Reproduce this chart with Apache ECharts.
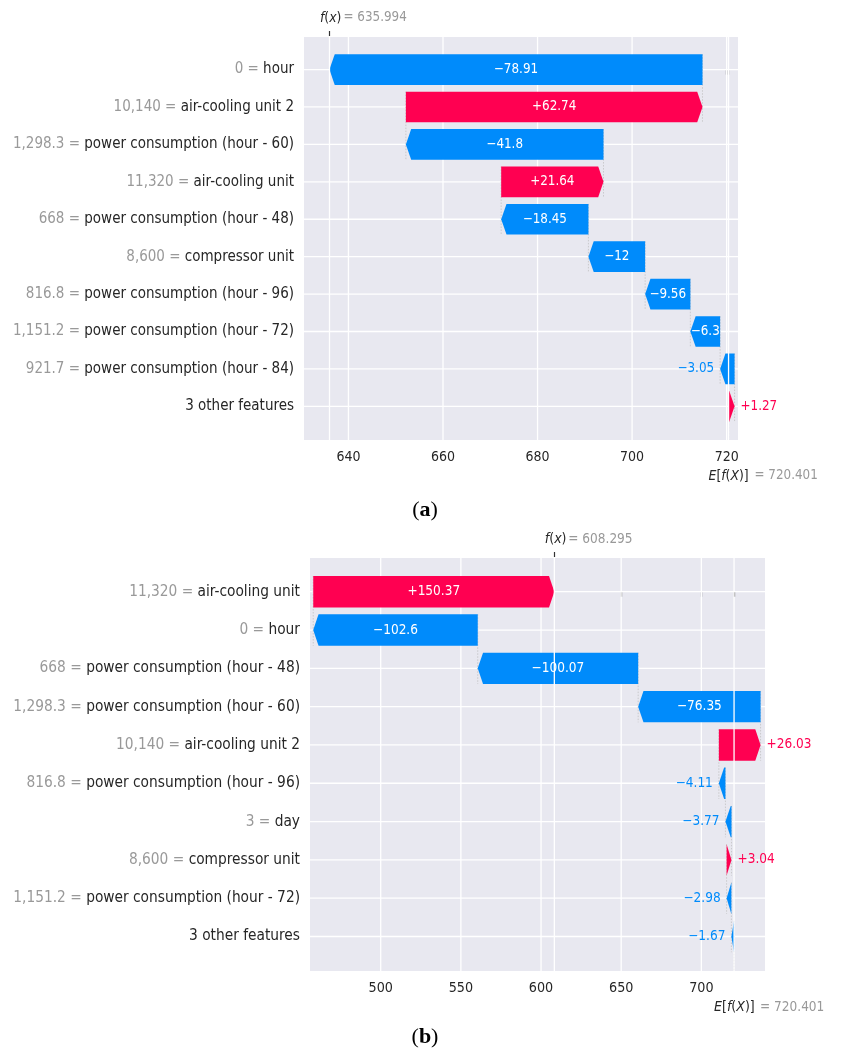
<!DOCTYPE html>
<html>
<head>
<meta charset="utf-8">
<script src="https://cdn.jsdelivr.net/npm/echarts@6/dist/echarts.min.js"></script>
<style>
  html, body { margin: 0; padding: 0; background: #ffffff; }
  #chart { width: 860px; height: 1051px; }
</style>
</head>
<body>
<div id="chart"></div>
<script>
// ---- Panel (a): waterfall of SHAP contributions, top row = largest |value| ----
const featureValuesA = ['0', '10,140', '1,298.3', '11,320', '668', '8,600', '816.8', '1,151.2', '921.7', ''];
const featureNamesA = ['hour', 'air-cooling unit 2', 'power consumption (hour - 60)', 'air-cooling unit',
  'power consumption (hour - 48)', 'compressor unit', 'power consumption (hour - 96)',
  'power consumption (hour - 72)', 'power consumption (hour - 84)', '3 other features'];
const shapValuesA = [-78.91, 62.74, -41.8, 21.64, -18.45, -12, -9.56, -6.3, -3.05, 1.27];
const baseValueA = 720.401;
const fxValueA = 635.994;
const xTicksA = [640, 660, 680, 700, 720];

// ---- Panel (b) ----
const featureValuesB = ['11,320', '0', '668', '1,298.3', '10,140', '816.8', '3', '8,600', '1,151.2', ''];
const featureNamesB = ['air-cooling unit', 'hour', 'power consumption (hour - 48)', 'power consumption (hour - 60)',
  'air-cooling unit 2', 'power consumption (hour - 96)', 'day', 'compressor unit',
  'power consumption (hour - 72)', '3 other features'];
const shapValuesB = [150.37, -102.6, -100.07, -76.35, 26.03, -4.11, -3.77, 3.04, -2.98, -1.67];
const baseValueB = 720.401;
const fxValueB = 608.295;
const xTicksB = [500, 550, 600, 650, 700];

// ---- styling ----
const FONT = "'DejaVu Sans Condensed', 'DejaVu Sans'";
const RED = '#ff0051';
const BLUE = '#008bfb';
const PLOT_BG = '#e8e8f0';
const TEXT_DARK = '#262626';
const TEXT_GRAY = '#999999';
const BAR_THICK = 0.82;   // in row units
const HEAD_PX = 5.3;      // arrow head length in pixels

const measureCtx = document.createElement('canvas').getContext('2d');
function textWidth(t, size) {
  measureCtx.font = size + 'px ' + FONT;
  return measureCtx.measureText(t).width;
}
function fmtShap(v) {
  const s = Math.abs(v).toFixed(2).replace(/0+$/, '').replace(/\.$/, '');
  return (v >= 0 ? '+' : '\u2212') + s;
}

const panels = [
  {
    names: featureNamesA, vals: featureValuesA, shap: shapValuesA, base: baseValueA, fx: fxValueA, ticks: xTicksA,
    grid: { left: 304, top: 37, width: 434, height: 403 },
    xMin: 630.6, xMax: 722.4, yMin: -0.87, yMax: 9.9,
    labelSize: 15, tickSize: 14, valSize: 13.3, annSize: 13.3
  },
  {
    names: featureNamesB, vals: featureValuesB, shap: shapValuesB, base: baseValueB, fx: fxValueB, ticks: xTicksB,
    grid: { left: 310, top: 558, width: 455, height: 413 },
    xMin: 455.9, xMax: 739.7, yMin: -0.88, yMax: 9.9,
    labelSize: 15.3, tickSize: 14.2, valSize: 13.5, annSize: 13.5
  }
];

const grids = [], xAxes = [], yAxes = [], series = [];

panels.forEach(function (p, idx) {
  const n = p.shap.length;
  const rows = [];
  for (let i = 0; i < n; i++) rows.push(i);

  // cumulative chain from the expected value upward (bottom row first)
  const bars = new Array(n);
  let cum = p.base;
  for (let i = n - 1; i >= 0; i--) {
    const start = cum, end = cum + p.shap[i];
    bars[i] = [start, end, i, p.shap[i]];
    cum = end;
  }

  grids.push(Object.assign({ show: true, backgroundColor: PLOT_BG, borderWidth: 0 }, p.grid));

  const xb = xAxes.length;
  xAxes.push({
    type: 'value', gridIndex: idx, position: 'bottom', min: p.xMin, max: p.xMax, offset: 1,
    axisLine: { show: false },
    axisTick: { show: true, customValues: p.ticks.concat([p.base]), length: 5, lineStyle: { color: '#333333', width: 1.2 } },
    axisLabel: { customValues: p.ticks, color: TEXT_DARK, fontSize: p.tickSize, fontFamily: FONT, margin: 9 },
    splitLine: { show: false }
  });
  xAxes.push({
    type: 'value', gridIndex: idx, position: 'top', min: p.xMin, max: p.xMax, offset: 1,
    axisLine: { show: false },
    axisTick: { show: true, customValues: [p.fx], length: 5, lineStyle: { color: '#333333', width: 1.2 } },
    axisLabel: { show: false },
    splitLine: { show: false }
  });

  yAxes.push({
    type: 'value', gridIndex: idx, inverse: true, min: p.yMin, max: p.yMax,
    axisLine: { show: false }, axisTick: { show: false }, splitLine: { show: false },
    axisLabel: {
      customValues: rows, margin: 10, fontFamily: FONT, fontSize: p.labelSize,
      formatter: function (val) {
        const i = Math.round(val);
        if (!p.vals[i]) return '{n|' + p.names[i] + '}';
        return '{v|' + p.vals[i] + ' = }{n|' + p.names[i] + '}';
      },
      rich: {
        v: { color: TEXT_GRAY, fontSize: p.labelSize, fontFamily: FONT },
        n: { color: TEXT_DARK, fontSize: p.labelSize, fontFamily: FONT }
      }
    }
  });

  const axisRef = { xAxisIndex: xb, yAxisIndex: idx };

  // white grid lines: row centres and x ticks
  const gridData = rows.map(function (r) { return [0, r]; }).concat(p.ticks.map(function (t) { return [1, t]; }));
  series.push(Object.assign({
    type: 'custom', z: 1, silent: true, data: gridData,
    renderItem: function (params, api) {
      const kind = api.value(0), v = api.value(1);
      let a, b;
      if (kind === 0) { a = api.coord([p.xMin, v]); b = api.coord([p.xMax, v]); }
      else { a = api.coord([v, p.yMin]); b = api.coord([v, p.yMax]); }
      return { type: 'line', shape: { x1: a[0], y1: a[1], x2: b[0], y2: b[1] }, style: { stroke: '#ffffff', lineWidth: 1.3 } };
    }
  }, axisRef));

  // faint dashed connectors at the start of each bar
  series.push(Object.assign({
    type: 'custom', z: 2, silent: true, data: bars,
    renderItem: function (params, api) {
      const s = api.value(0), r = api.value(2);
      const a = api.coord([s, r - BAR_THICK / 2]);
      const b = api.coord([s, Math.min(r + 1 + BAR_THICK / 2, p.yMax)]);
      return { type: 'line', shape: { x1: a[0], y1: a[1], x2: b[0], y2: b[1] },
        style: { stroke: '#bbbbbb', lineWidth: 0.7, lineDash: [1.5, 1.5] } };
    }
  }, axisRef));

  // arrow-shaped contribution bars with their value labels
  series.push(Object.assign({
    type: 'custom', z: 3, silent: true, data: bars,
    renderItem: function (params, api) {
      const s = api.value(0), e = api.value(1), r = api.value(2), v = api.value(3);
      const a = api.coord([s, r]), b = api.coord([e, r]);
      const h = api.size([0, BAR_THICK])[1];
      const cy = a[1], top = cy - h / 2, bot = cy + h / 2;
      const w = Math.abs(b[0] - a[0]);
      const hl = Math.min(w, HEAD_PX);
      let pts;
      if (v >= 0) {
        const L = a[0], R = b[0];
        pts = [[L, top], [R - hl, top], [R, cy], [R - hl, bot], [L, bot]];
      } else {
        const R = a[0], T = b[0];
        pts = [[R, top], [T + hl, top], [T, cy], [T + hl, bot], [R, bot]];
      }
      const color = v >= 0 ? RED : BLUE;
      const txt = fmtShap(v);
      const tw = textWidth(txt, p.valSize);
      const ts = { text: txt, fontSize: p.valSize, fontFamily: FONT, verticalAlign: 'middle', y: cy };
      if (tw <= w) {
        Object.assign(ts, { x: (a[0] + b[0]) / 2, align: 'center', fill: '#ffffff' });
      } else if (v >= 0) {
        Object.assign(ts, { x: b[0] + 6, align: 'left', fill: RED });
      } else {
        Object.assign(ts, { x: b[0] - 6, align: 'right', fill: BLUE });
      }
      return {
        type: 'group',
        children: [
          { type: 'polygon', shape: { points: pts }, style: { fill: color } },
          { type: 'text', style: ts }
        ]
      };
    }
  }, axisRef));

  // prediction and expected-value lines drawn over the bars
  series.push(Object.assign({
    type: 'custom', z: 4, silent: true, data: [[p.fx], [p.base]],
    renderItem: function (params, api) {
      const v = api.value(0);
      const a = api.coord([v, p.yMin]), b = api.coord([v, p.yMax]);
      return { type: 'line', shape: { x1: a[0], y1: a[1], x2: b[0], y2: b[1] }, style: { stroke: '#ffffff', lineWidth: 1.3 } };
    }
  }, axisRef));

  // f(x) and E[f(X)] annotations
  series.push(Object.assign({
    type: 'custom', z: 5, silent: true, data: [[0, p.fx], [1, p.base]],
    renderItem: function (params, api) {
      const kind = api.value(0), v = api.value(1);
      const rich = {
        i: { fontStyle: 'italic', fontSize: p.annSize + 0.5, fontFamily: FONT, fill: TEXT_DARK, color: TEXT_DARK },
        n: { fontSize: p.annSize + 0.5, fontFamily: FONT, fill: TEXT_DARK, color: TEXT_DARK }
      };
      if (kind === 0) {
        const pt = api.coord([v, p.yMin]);
        const y = pt[1] - 19;
        return { type: 'group', children: [
          { type: 'text', style: { x: pt[0] - 9.5, y: y, text: '{i|f}{n|(}{i|x}{n|)}', rich: rich,
              fontSize: p.annSize, fontFamily: FONT, align: 'left', verticalAlign: 'middle' } },
          { type: 'text', style: { x: pt[0] + 14, y: y, text: '= ' + v.toFixed(3), fill: TEXT_GRAY,
              fontSize: p.annSize, fontFamily: FONT, align: 'left', verticalAlign: 'middle' } }
        ] };
      }
      const pb = api.coord([v, p.yMax]);
      const yb = pb[1] + 36;
      return { type: 'group', children: [
        { type: 'text', style: { x: pb[0] - 20, y: yb, text: '{i|E}{n|[}{i|f}{n|(}{i|X}{n|)]}', rich: rich,
            fontSize: p.annSize, fontFamily: FONT, align: 'left', verticalAlign: 'middle' } },
        { type: 'text', style: { x: pb[0] + 26, y: yb, text: '= ' + v.toFixed(3), fill: TEXT_GRAY,
            fontSize: p.annSize, fontFamily: FONT, align: 'left', verticalAlign: 'middle' } }
      ] };
    }
  }, axisRef));
});

const captionRich = {
  p: { fontFamily: 'Liberation Serif', fontSize: 22, color: '#000000' },
  b: { fontFamily: 'Liberation Serif', fontSize: 22, fontWeight: 'bold', color: '#000000' }
};

const chart = echarts.init(document.getElementById('chart'), null, { renderer: 'canvas' });
chart.setOption({
  backgroundColor: '#ffffff',
  animation: false,
  grid: grids,
  xAxis: xAxes,
  yAxis: yAxes,
  series: series,
  graphic: [
    { type: 'text', x: 425, y: 510, style: { text: '{p|(}{b|a}{p|)}', rich: captionRich, align: 'center', verticalAlign: 'middle' } },
    { type: 'text', x: 425, y: 1037, style: { text: '{p|(}{b|b}{p|)}', rich: captionRich, align: 'center', verticalAlign: 'middle' } }
  ]
});
</script>
</body>
</html>
